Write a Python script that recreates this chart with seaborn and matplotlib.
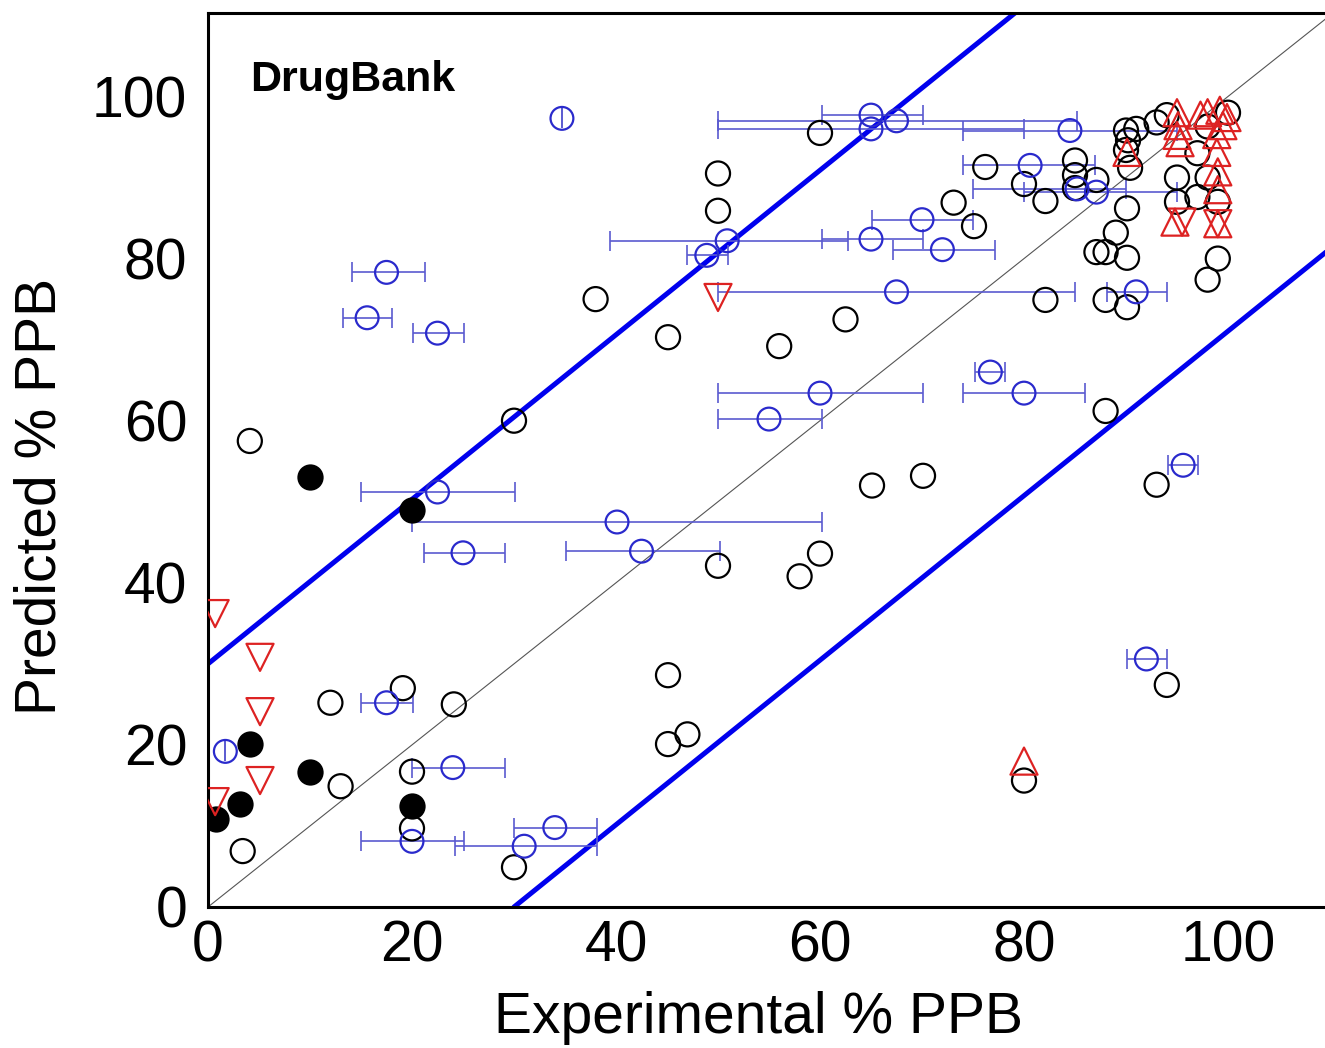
import numpy as np
import pandas as pd
import matplotlib
matplotlib.use('Agg')
import matplotlib.pyplot as plt
import seaborn as sns

# black open circles
open_x = [4.1, 3.4, 12, 19.1, 13, 24.1, 20, 20, 30, 30, 38, 45.1, 45.1, 45.1, 47, 50, 50, 50,
          56, 60, 60, 58, 62.5, 65.1, 70.1, 73.1, 75.1, 76.2, 80, 82.1, 82.1, 85, 85, 85, 87.1,
          87.1, 88, 88, 88, 89, 90.1, 90.1, 90.1, 90, 90.2, 90, 90.4, 91, 93, 94, 93, 94, 95, 95,
          97, 97, 98, 98, 99, 99, 98, 100, 80]
open_y = [57.5, 6.9, 25.2, 27, 14.9, 25, 16.7, 9.7, 4.9, 60, 75, 70.3, 28.6, 20.1, 21.3, 42.1,
          90.5, 85.9, 69.2, 95.5, 43.6, 40.8, 72.5, 52, 53.2, 86.9, 84, 91.3, 89.2, 87.1, 74.9,
          92.1, 90.3, 88.7, 89.7, 80.8, 80.8, 74.9, 61.2, 83.2, 80.1, 74, 86.2, 95.8, 94.6, 93.4,
          91.2, 96, 96.8, 97.7, 52.1, 27.4, 90, 87, 87.6, 93, 90, 77.4, 80, 87, 96.3, 98, 15.6]

# black filled circles
filled_x = [0.8, 3.1, 4.1, 10, 10, 20, 20]
filled_y = [10.8, 12.7, 20.1, 53.1, 16.7, 49, 12.5]

# blue circles with horizontal error bars (low / high experimental range)
blue_x = [34.7, 17.5, 15.6, 22.5, 22.5, 40.1, 25, 42.5, 1.7, 17.5, 24, 20, 31, 34,
          65, 70, 72, 50.9, 48.9, 67.5, 65, 65, 67.5, 84.5, 80.6, 85.2, 87.1, 91,
          95.6, 92, 76.7, 60, 55, 80]
blue_y = [97.3, 78.3, 72.7, 70.8, 51.2, 47.5, 43.7, 43.9, 19.2, 25.2, 17.2, 8.1, 7.5, 9.8,
          82.4, 84.8, 81.1, 82.2, 80.4, 75.9, 97.7, 96, 97, 95.8, 91.5, 88.6, 88.2, 75.9,
          54.5, 30.6, 66, 63.4, 60.2, 63.4]
blue_lo = [34.7, 14.1, 13.2, 20.1, 15, 20, 21.2, 35.1, 1.7, 15, 20, 15, 24.2, 30,
           60.2, 65.1, 67.2, 39.4, 47, 50, 60.2, 50, 50, 74, 74, 75, 80, 88.1,
           94.1, 90.1, 75.2, 50, 50, 74]
blue_hi = [34.7, 21.3, 18, 25.1, 30.1, 60.2, 29.1, 50.2, 1.7, 20.1, 29.1, 25.1, 38.1, 38.1,
           70.1, 75, 77.2, 62.7, 51, 85, 70.1, 80, 85.2, 95, 87, 90, 95, 94,
           97.1, 94, 78.1, 70.1, 60.2, 86]

# red up triangles
up_x = [80, 90.1, 95, 95.1, 95, 95.3, 98, 99.2, 99.9, 99.5, 98.9, 98.9, 99, 99, 99, 94.8, 97.3]
up_y = [18, 93.1, 98, 96.4, 95.2, 94.3, 98, 98.3, 97.4, 96.4, 95.3, 93.1, 90.7, 88.5, 84.3, 84.5, 97.7]

# red down triangles
down_x = [0.7, 5.1, 5.1, 5.1, 0.7, 50, 95.5, 99]
down_y = [36.2, 30.8, 24.1, 15.6, 13, 75.2, 84.5, 84.3]

band = 30          # +/- band around the identity line
band_slope = 1.015

sns.set_style("white")
plt.rcParams['font.family'] = ['Liberation Sans', 'DejaVu Sans']
plt.rcParams['text.color'] = 'black'
plt.rcParams['axes.labelcolor'] = 'black'
plt.rcParams['xtick.color'] = 'black'
plt.rcParams['ytick.color'] = 'black'

fig = plt.figure(figsize=(13.25, 10.48), dpi=100)
ax = fig.add_axes([208 / 1325, 141 / 1048, 1122 / 1325, 894 / 1048])

# reference lines
ax.axline((0, 0), slope=1, color='#555555', lw=0.8, zorder=1)
ax.axline((0, band), slope=band_slope, color='#0000ee', lw=3.6, zorder=2)
ax.axline((band, 0), slope=band_slope, color='#0000ee', lw=3.6, zorder=2)

# error bars for blue points
blue_x = np.array(blue_x)
xerr = [blue_x - np.array(blue_lo), np.array(blue_hi) - blue_x]
ax.errorbar(blue_x, blue_y, xerr=xerr, fmt='none', ecolor='#5a5ad0', elinewidth=1.2,
            capsize=7, capthick=1.2, zorder=3)

sns.scatterplot(x=open_x, y=open_y, ax=ax, s=300, marker='o', facecolor='none',
                edgecolor='black', linewidth=1.6, zorder=4)
sns.scatterplot(x=filled_x, y=filled_y, ax=ax, s=300, marker='o', color='black',
                edgecolor='black', linewidth=1.6, zorder=4)
sns.scatterplot(x=blue_x, y=blue_y, ax=ax, s=270, marker='o', facecolor='none',
                edgecolor='#2a2acc', linewidth=1.6, zorder=5)
sns.scatterplot(x=up_x, y=up_y, ax=ax, s=380, marker='^', facecolor='none',
                edgecolor='#dd2222', linewidth=1.6, zorder=6)
sns.scatterplot(x=down_x, y=down_y, ax=ax, s=380, marker='v', facecolor='none',
                edgecolor='#dd2222', linewidth=1.6, zorder=6)

ax.set_xlim(0, 110)
ax.set_ylim(0, 110.3)
ax.set_xticks([0, 20, 40, 60, 80, 100])
ax.set_yticks([0, 20, 40, 60, 80, 100])
ax.set_xticks(np.arange(10, 110, 20), minor=True)
ax.set_yticks(np.arange(10, 110, 20), minor=True)
ax.tick_params(which='major', direction='in', length=11, width=2, labelsize=41)
ax.tick_params(axis='x', which='major', pad=9)
ax.tick_params(axis='y', which='major', pad=15)
ax.tick_params(which='minor', direction='in', length=6, width=2)
for sp in ax.spines.values():
    sp.set_linewidth(2.2)
    sp.set_color('black')

ax.set_xlabel('Experimental % PPB', fontsize=41)
ax.set_ylabel('Predicted % PPB', fontsize=41)
ax.xaxis.set_label_coords(0.491, -0.094)
ax.yaxis.set_label_coords(-0.125, 0.459)
ax.text(4.1, 100.7, 'DrugBank', fontsize=31, fontweight='bold', va='baseline', ha='left')

fig.savefig('out.png', dpi=100)
